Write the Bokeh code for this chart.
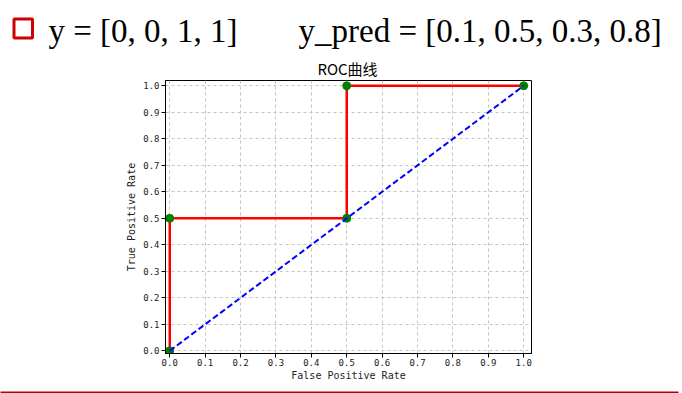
from bokeh.plotting import figure
from bokeh.layouts import column
from bokeh.models import Range1d, FixedTicker, Label, BoxAnnotation
from bokeh.embed import file_html
from bokeh.resources import INLINE

# ---- data ----
fpr = [0.0, 0.0, 0.5, 0.5, 1.0]
tpr = [0.0, 0.5, 0.5, 1.0, 1.0]
diag_x = [0.0, 1.0]
diag_y = [0.0, 1.0]
tick_values = [0.0, 0.1, 0.2, 0.3, 0.4, 0.5, 0.6, 0.7, 0.8, 0.9, 1.0]
tick_labels = ["0.0", "0.1", "0.2", "0.3", "0.4", "0.5", "0.6", "0.7", "0.8", "0.9", "1.0"]
title_text = "ROC曲线"
x_label = "False Positive Rate"
y_label = "True Positive Rate"
header_y = "y = [0, 0, 1, 1]"
header_pred = "y_pred = [0.1, 0.5, 0.3, 0.8]"

W = 682


def blank(height, **kw):
    f = figure(width=W, height=height, x_range=Range1d(0, 1), y_range=Range1d(0, 1),
               x_axis_type=None, y_axis_type=None,
               output_backend="svg", toolbar_location=None, **kw)
    f.grid.visible = False
    f.outline_line_color = None
    f.border_fill_color = "white"
    f.frame_align = False
    return f


# ---- header (screen units: from the frame's bottom-left corner) ----
HH = 78
head = blank(HH, min_border=0)
head.background_fill_color = "white"
head.add_layout(Label(x=48, y=HH - 30.5, x_units="screen", y_units="screen", text=header_y,
                      text_align="left", text_baseline="alphabetic",
                      text_font="Liberation Serif", text_font_size="33px", text_color="black"))
head.add_layout(Label(x=298, y=HH - 30.5, x_units="screen", y_units="screen", text=header_pred,
                      text_align="left", text_baseline="alphabetic",
                      text_font="Liberation Serif", text_font_size="33px", text_color="black"))
head.add_layout(BoxAnnotation(left=13.5, right=32, top=HH - 18.5, bottom=HH - 37.5,
                              left_units="screen", right_units="screen",
                              top_units="screen", bottom_units="screen",
                              fill_alpha=0, line_color="#d00000", line_width=3, line_alpha=1))
head.add_layout(Label(x=347, y=HH - 68, x_units="screen", y_units="screen", text=title_text,
                      text_align="center", text_baseline="middle",
                      text_font="Noto Sans CJK SC", text_font_size="15px", text_color="black"))

# ---- main chart ----
p = figure(width=W, height=305,
           min_border_left=165, min_border_right=151,
           min_border_top=2, min_border_bottom=30,
           x_range=Range1d(-0.012, 1.022), y_range=Range1d(-0.01, 1.02),
           output_backend="svg", toolbar_location=None)
p.frame_align = False
p.background_fill_color = "white"
p.border_fill_color = "white"
p.outline_line_color = "black"
p.outline_line_alpha = 1.0
p.outline_line_width = 1

for ax in (p.xaxis[0], p.yaxis[0]):
    ax.ticker = FixedTicker(ticks=tick_values)
    ax.major_label_overrides = dict(zip(tick_values, tick_labels))
    ax.minor_tick_line_color = None
    ax.major_tick_in = 0
    ax.major_tick_out = 4
    ax.axis_line_color = "black"
    ax.major_tick_line_color = "black"
    ax.major_label_text_font = "DejaVu Sans Mono"
    ax.major_label_text_font_size = "9px"
    ax.major_label_text_color = "#222222"
    ax.major_label_standoff = 1
    ax.axis_label_text_font = "DejaVu Sans Mono"
    ax.axis_label_text_font_size = "10px"
    ax.axis_label_text_font_style = "normal"
    ax.axis_label_text_color = "#222222"
    ax.axis_label_standoff = 1
p.yaxis.major_label_standoff = 2
p.yaxis.axis_label_standoff = 3
p.xaxis.axis_label = x_label
p.yaxis.axis_label = y_label

p.grid.grid_line_color = "#c4c4c4"
p.grid.grid_line_dash = "3 3"
p.grid.grid_line_width = 1

p.line(fpr, tpr, line_color="#ff0000", line_width=2.5)
p.scatter(fpr, tpr, size=8, fill_color="#008000", line_color="#008000")
p.line(diag_x, diag_y, line_color="#0000ff", line_width=2, line_dash="6 3")

# ---- bottom rule: the frame itself, filled dark red ----
foot = blank(10, min_border_left=0, min_border_right=4, min_border_top=6, min_border_bottom=2)
foot.background_fill_color = "#b00000"

layout = column(head, p, foot, spacing=0)
open("out.html", "w").write(file_html(layout, INLINE))
